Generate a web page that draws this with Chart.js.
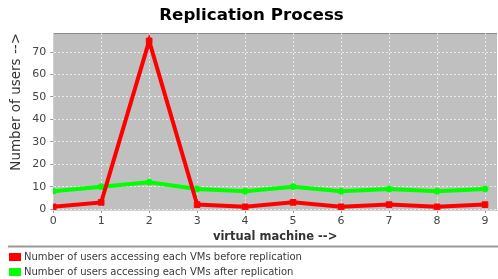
<!DOCTYPE html>
<html>
<head>
<meta charset="utf-8">
<script src="https://cdn.jsdelivr.net/npm/chart.js@4.4.0/dist/chart.umd.min.js"></script>
<style>
  html, body { margin: 0; padding: 0; background: #fff; }
  #wrap { width: 498px; height: 279px; position: relative; }
</style>
</head>
<body>
<div id="wrap"><canvas id="chart"></canvas></div>
<script>
// Datos del gráfico
const vmIndex = [0, 1, 2, 3, 4, 5, 6, 7, 8, 9];
const beforeReplication = [1, 3, 75, 2, 1, 3, 1, 2, 1, 2];
const afterReplication = [8, 10, 12, 9, 8, 10, 8, 9, 8, 9];
const yTicks = [0, 10, 20, 30, 40, 50, 60, 70];

const seriesNames = [
    'Number of users accessing each VMs before replication',
    'Number of users accessing each VMs after replication'
];

const toPoints = (vals) => vals.map((v, i) => ({ x: vmIndex[i], y: v }));

// Fondo gris del área de trazado y línea separadora de la leyenda
const plotBackground = {
    id: 'plotBackground',
    beforeDraw(chart) {
        const { ctx, chartArea } = chart;
        ctx.save();
        ctx.fillStyle = '#c0c0c0';
        ctx.fillRect(chartArea.left, chartArea.top, chartArea.right - chartArea.left, chartArea.bottom - chartArea.top);
        ctx.strokeStyle = '#8a8a8a';
        ctx.lineWidth = 1;
        ctx.beginPath();
        ctx.moveTo(chartArea.left, chartArea.top + 0.5);
        ctx.lineTo(chartArea.right, chartArea.top + 0.5);
        ctx.stroke();
        ctx.restore();
    },
    afterDraw(chart) {
        const { ctx } = chart;
        const y = Math.round(chart.legend.top) - 0.5;
        ctx.save();
        ctx.strokeStyle = '#9a9a9a';
        ctx.lineWidth = 2;
        ctx.beginPath();
        ctx.moveTo(8, y);
        ctx.lineTo(498, y);
        ctx.stroke();
        ctx.restore();
    }
};

const ctx = document.getElementById('chart').getContext('2d');
new Chart(ctx, {
    type: 'line',
    data: {
        datasets: [
            {
                label: seriesNames[0],
                data: toPoints(beforeReplication),
                borderColor: '#ff0000',
                backgroundColor: '#ff0000',
                borderWidth: 4,
                pointStyle: 'rect',
                pointRadius: 4,
                pointBorderWidth: 1,
                pointHoverRadius: 4,
                tension: 0
            },
            {
                label: seriesNames[1],
                data: toPoints(afterReplication),
                borderColor: '#00ff00',
                backgroundColor: '#00ff00',
                borderWidth: 4,
                pointStyle: 'circle',
                pointRadius: 3,
                pointBorderWidth: 1,
                pointHoverRadius: 3,
                tension: 0
            }
        ]
    },
    options: {
        responsive: true,
        maintainAspectRatio: false,
        animation: false,
        layout: { autoPadding: false, padding: { left: 6, right: 1, top: 5, bottom: -8 } },
        plugins: {
            title: {
                display: true,
                text: 'Replication Process',
                color: '#000',
                font: { family: 'DejaVu Sans', size: 16.7, weight: 'bold' },
                padding: { top: 1, bottom: 7 }
            },
            legend: {
                position: 'bottom',
                align: 'start',
                labels: {
                    color: '#3a3a3a',
                    font: { family: 'DejaVu Sans', size: 10 },
                    boxWidth: 8,
                    boxHeight: 4,
                    padding: 5
                }
            },
            tooltip: { enabled: false }
        },
        scales: {
            x: {
                type: 'linear',
                min: 0,
                max: 9.25,
                afterBuildTicks: (axis) => {
                    axis.ticks = vmIndex.map(v => ({ value: v }));
                },
                afterFit: (axis) => {
                    // el último tick (9) no está en el borde, no hace falta margen
                    axis.paddingRight = 0;
                },
                ticks: { color: '#444', font: { family: 'DejaVu Sans', size: 11 }, padding: 2 },
                grid: {
                    color: 'rgba(255,255,255,0.65)',
                    tickColor: '#999',
                    tickLength: 3,
                    drawTicks: true
                },
                border: { dash: [2, 2], color: '#d0d0d0' },
                title: {
                    display: true,
                    text: 'virtual machine -->',
                    color: '#333',
                    font: { family: 'DejaVu Sans', size: 11.5, weight: 'bold' },
                    padding: { top: 0, bottom: 3 }
                }
            },
            y: {
                type: 'linear',
                min: -0.4,
                max: 78.5,
                afterBuildTicks: (axis) => {
                    axis.ticks = yTicks.map(v => ({ value: v }));
                },
                ticks: { color: '#444', font: { family: 'DejaVu Sans', size: 11 }, padding: 4 },
                grid: {
                    color: 'rgba(255,255,255,0.65)',
                    tickColor: '#999',
                    tickLength: 3
                },
                border: { dash: [2, 2], color: '#d0d0d0' },
                title: {
                    display: true,
                    text: 'Number of users -->',
                    align: 'end',
                    color: '#333',
                    font: { family: 'DejaVu Sans', size: 13.5 },
                    padding: { top: 2, bottom: 4 }
                }
            }
        }
    },
    plugins: [plotBackground]
});
</script>
</body>
</html>
